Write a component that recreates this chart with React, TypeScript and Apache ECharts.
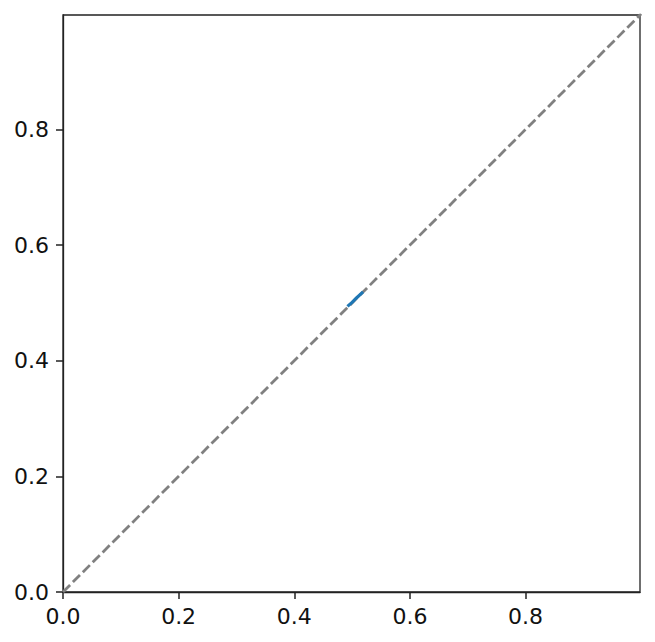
import React, { useEffect, useRef } from "react";
import * as echarts from "echarts";

const tickLabels = ["0.0", "0.2", "0.4", "0.6", "0.8"];
const curveX = [0.492, 0.5, 0.508, 0.519];
const curveY = [0.494, 0.501, 0.509, 0.519];
const diagX = [0, 1];
const diagY = [0, 1];
const axisMax = 0.998;

export default function App() {
  const ref = useRef<HTMLDivElement>(null);
  useEffect(() => {
    if (!ref.current) return;
    const chart = echarts.init(ref.current, null, { renderer: "svg" });
    const font = "'DejaVu Sans', sans-serif";
    const axisCommon = (isX: boolean) => ({
      type: "value",
      min: 0,
      max: axisMax,
      interval: 0.2,
      axisLine: { show: true, onZero: false, lineStyle: { color: "#222", width: 1.3 } },
      axisTick: { show: true, inside: false, length: 7, lineStyle: { color: "#222", width: 1.5 } },
      splitLine: { show: false },
      axisLabel: {
        color: "#111",
        fontFamily: font,
        fontSize: 22,
        margin: isX ? 13 : 14,
        showMaxLabel: false,
        formatter: (v: number) => {
          const idx = Math.round(v / 0.2);
          return Math.abs(v - idx * 0.2) < 1e-6 && idx < tickLabels.length ? tickLabels[idx] : "";
        },
      },
    });
    chart.setOption({
      animation: false,
      backgroundColor: "#fff",
      grid: {
        left: 63,
        top: 15,
        width: 577,
        height: 577,
        show: true,
        borderColor: "#222",
        borderWidth: 1.3,
        backgroundColor: "transparent",
      },
      xAxis: axisCommon(true),
      yAxis: axisCommon(false),
      series: [
        {
          type: "line",
          data: diagX.map((x, i) => [x, diagY[i]]),
          showSymbol: false,
          clip: true,
          lineStyle: { color: "#808080", width: 2.8, type: [10, 4] },
        },
        {
          type: "line",
          data: curveX.map((x, i) => [x, curveY[i]]),
          showSymbol: false,
          clip: true,
          z: 5,
          lineStyle: { color: "#1f77b4", width: 3.2 },
        },
      ],
    });
    return () => chart.dispose();
  }, []);
  return (
    <div
      ref={ref}
      style={{ position: "fixed", left: 0, top: 0, width: 655, height: 642, background: "#fff" }}
    />
  );
}
